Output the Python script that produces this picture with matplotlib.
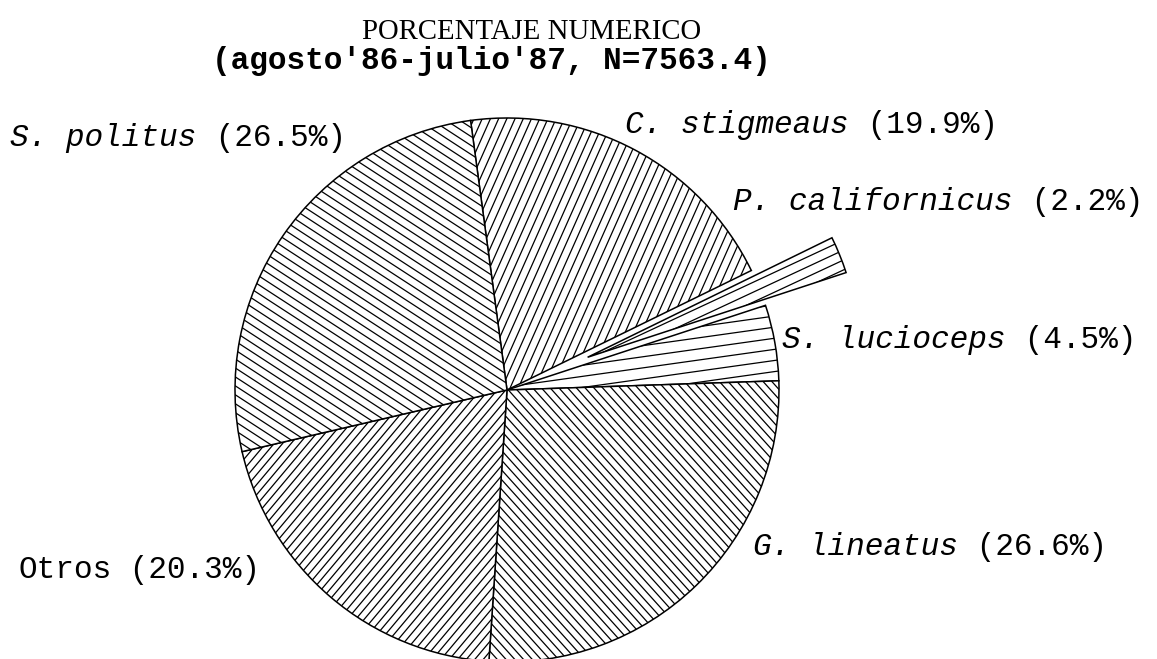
import numpy as np
import matplotlib.pyplot as plt
from matplotlib.collections import LineCollection

# data
species = ["C. stigmeaus", "P. californicus", "S. lucioceps",
           "G. lineatus", "Otros", "S. politus"]
percent = [19.9, 2.2, 4.5, 26.6, 20.3, 26.5]
is_species = [True, True, True, True, False, True]

title = "PORCENTAJE NUMERICO"
subtitle = "(agosto'86-julio'87, N=7563.4)"

W, H = 1157, 659
fig = plt.figure(figsize=(W / 100, H / 100), dpi=100)
ax = fig.add_axes([0, 0, 1, 1])

# pie in pixel units (y up)
cx, cy, r = 507, H - 390, 272
explode = [0, 87, 0, 0, 0, 0]
wedges, _ = ax.pie(percent, startangle=97.7, counterclock=False,
                   radius=r, center=(cx, cy), explode=explode,
                   wedgeprops=dict(facecolor="white", edgecolor="black",
                                   linewidth=1.1))

# hand-made hatching (angle in degrees, gap in px)
hatch_angle = [66, 25, 8, -48, 50, -33]
hatch_gap = [7.5, 9, 11, 6.5, 6.5, 7.5]
for w, a, g in zip(wedges, hatch_angle, hatch_gap):
    x0, y0 = w.center
    d = np.array([np.cos(np.radians(a)), np.sin(np.radians(a))])
    n = np.array([-d[1], d[0]])
    segs = []
    for k in np.arange(-r, r + g, g):
        px, py = x0 + k * n[0], y0 + k * n[1]
        segs.append([(px - r * d[0], py - r * d[1]),
                     (px + r * d[0], py + r * d[1])])
    lc = LineCollection(segs, colors="black", linewidths=0.9)
    ax.add_collection(lc)
    lc.set_clip_path(w)

ax.set_aspect("auto")
ax.set_xlim(0, W)
ax.set_ylim(0, H)
ax.axis("off")

# labels: left x and baseline y (image pixels)
label_x = [625, 733, 782, 753, 18, 10]
label_y = [133, 210, 348, 555, 578, 146]
fs = 22.4
adv = fs * 100 / 72 * 0.6
for name, p, sp, x, y in zip(species, percent, is_species, label_x, label_y):
    ax.text(x, H - y, name, family="Liberation Mono",
            style="italic" if sp else "normal", fontsize=fs,
            ha="left", va="baseline")
    ax.text(x + len(name) * adv, H - y, f" ({p}%)", family="Liberation Mono",
            fontsize=fs, ha="left", va="baseline")

ax.text(532, H - 39, title, family="Liberation Serif", fontsize=20.7,
        ha="center", va="baseline")
ax.text(491, H - 69, subtitle, family="Liberation Mono", weight="bold",
        fontsize=fs, ha="center", va="baseline")

fig.savefig("out.png", dpi=100)
